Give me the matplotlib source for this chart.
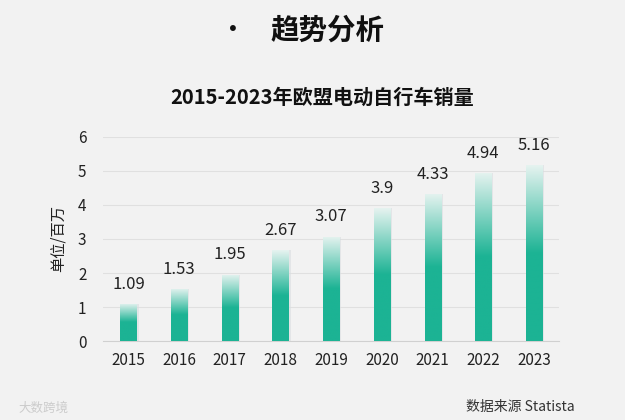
import numpy as np
import matplotlib.pyplot as plt
from matplotlib.colors import LinearSegmentedColormap

plt.rcParams['font.family'] = ['Noto Sans CJK SC', 'DejaVu Sans']

years = ['2015', '2016', '2017', '2018', '2019', '2020', '2021', '2022', '2023']
sales = [1.09, 1.53, 1.95, 2.67, 3.07, 3.9, 4.33, 4.94, 5.16]
value_labels = ['1.09', '1.53', '1.95', '2.67', '3.07', '3.9', '4.33', '4.94', '5.16']

bg = '#f2f2f2'
teal = '#1cb394'

fig = plt.figure(figsize=(6.25, 4.2), dpi=100, facecolor=bg)
ax = fig.add_axes([0.165, 0.188, 0.73, 0.486], facecolor=bg)

x = np.arange(len(years))
bars = ax.bar(x, sales, width=0.32, color='none', zorder=3)

cmap = LinearSegmentedColormap.from_list(
    'fade', [(0.0, teal), (0.5, teal), (1.0, '#e6f3f0')])
grad = np.linspace(0, 1, 256).reshape(-1, 1)
for b, v in zip(bars, sales):
    x0 = b.get_x()
    w = b.get_width()
    # shadow on right side
    ax.bar(x0 + w / 2 + 0.04, v, width=w, color='#d9dde0', alpha=0.6,
           zorder=2)
    im = ax.imshow(grad, cmap=cmap, origin='lower', aspect='auto',
                   extent=[x0, x0 + w, 0, v], zorder=3)
    im.set_clip_path(b)

for xi, v, lab in zip(x, sales, value_labels):
    ax.text(xi, v + 0.33, lab, ha='center', va='bottom', fontsize=12,
            color='#222222')

ax.set_xlim(-0.5, len(years) - 0.5)
ax.set_ylim(0, 6)
ax.set_yticks(range(0, 7))
ax.set_xticks(x)
ax.set_xticklabels(years)
ax.tick_params(axis='both', length=0, labelsize=11, colors='#222222')
ax.tick_params(axis='y', pad=12)
ax.tick_params(axis='x', pad=8)
ax.grid(axis='y', color='#e0e0e0', linewidth=0.8, zorder=0)
for s in ['top', 'right', 'left']:
    ax.spines[s].set_visible(False)
ax.spines['bottom'].set_color('#d0d0d0')
ax.set_ylabel('单位/百万', fontsize=11, color='#222222', labelpad=8)

fig.text(0.515, 0.768, '2015-2023年欧盟电动自行车销量', ha='center', va='center',
         fontsize=14.5, fontweight='bold', color='#111111')
fig.text(0.372, 0.926, '•', ha='center', va='center', fontsize=20,
         color='#111111')
fig.text(0.524, 0.926, '趋势分析', ha='center', va='center', fontsize=20.5,
         fontweight='bold', color='#111111')
fig.text(0.745, 0.032, '数据来源 Statista', ha='left', va='center',
         fontsize=10, color='#333333')
fig.text(0.03, 0.028, '大数跨境', ha='left', va='center', fontsize=9,
         color='#cccccc')

fig.savefig('out.png', dpi=100, facecolor=bg)
